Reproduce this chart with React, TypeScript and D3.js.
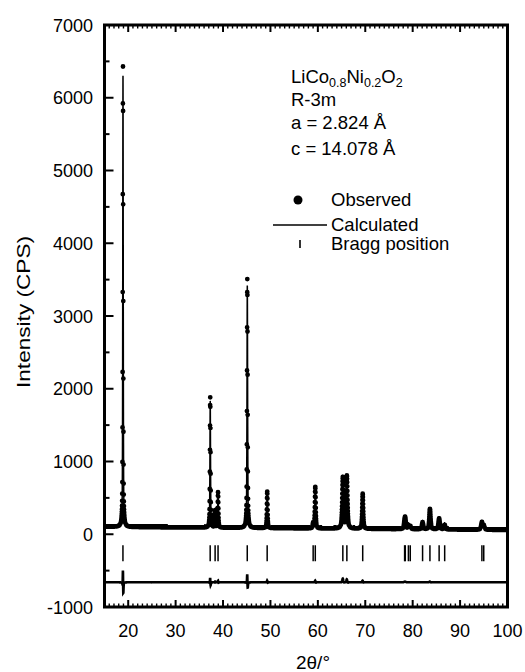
import React from 'react';
import * as d3 from 'd3';

// Peak list (2θ in degrees, net heights in CPS)
const calcPos = [18.9005, 37.301, 38.33, 38.951, 45.121, 49.321, 59.01, 59.461, 65.271, 66.121, 69.461, 78.30, 78.44, 79.10, 79.49, 82.09, 83.641, 85.58, 86.75, 94.60, 94.99];
const obsPos = [18.899, 37.299, 38.33, 38.949, 45.119, 49.319, 59.01, 59.459, 65.269, 66.119, 69.459, 78.30, 78.44, 79.10, 79.49, 82.09, 83.639, 85.58, 86.75, 94.60, 94.99];
const obsHeight = [6330, 1790, 235, 490, 3420, 500, 70, 570, 700, 720, 480, 85, 115, 50, 40, 95, 280, 150, 60, 100, 55];
const calcHeight = [6200, 1740, 225, 470, 3330, 480, 70, 550, 650, 680, 460, 80, 110, 50, 40, 95, 270, 150, 60, 100, 55];
const obsWidth = [0.12, 0.14, 0.15, 0.15, 0.15, 0.16, 0.2, 0.2, 0.3, 0.3, 0.24, 0.3, 0.3, 0.3, 0.3, 0.3, 0.3, 0.32, 0.32, 0.35, 0.35];
const calcWidth = [0.124, 0.145, 0.155, 0.155, 0.155, 0.165, 0.2, 0.205, 0.31, 0.31, 0.245, 0.3, 0.3, 0.3, 0.3, 0.3, 0.305, 0.32, 0.32, 0.35, 0.35];
const braggPos = [18.89, 37.29, 38.33, 38.95, 45.11, 49.31, 59.01, 59.46, 65.27, 66.12, 69.46, 78.30, 78.44, 79.10, 79.49, 82.09, 83.64, 85.58, 86.75, 94.60, 94.99];
const bgAngle = [15, 20, 30, 45, 60, 80, 100];
const bgLevel = [105, 100, 95, 88, 80, 70, 60];
const xTickLabels = [20, 30, 40, 50, 60, 70, 80, 90, 100];
const yTickLabels = [-1000, 0, 1000, 2000, 3000, 4000, 5000, 6000, 7000];
const diffOffset = -660;
const braggTop = -150;
const braggBottom = -370;

const FONT = '"Liberation Sans", Arial, Helvetica, sans-serif';

function pv(t: number, x0: number, h: number, w: number) {
  const d = (t - x0) / w;
  const L = 1 / (1 + 4 * d * d);
  const G = Math.exp(-4 * Math.LN2 * d * d);
  return h * (0.55 * L + 0.45 * G);
}

export default function App() {
  const x = d3.scaleLinear().domain([15, 100]).range([104.5, 507.5]);
  const y = d3.scaleLinear().domain([-1000, 7000]).range([607, 25]);
  const bg = d3.scaleLinear().domain(bgAngle).range(bgLevel);

  const profile = (t: number, P: number[], H: number[], W: number[]) => {
    let v = bg(t);
    for (let i = 0; i < P.length; i++) {
      if (Math.abs(t - P[i]) < 6) v += pv(t, P[i], H[i], W[i]);
    }
    return v;
  };

  const obsPts: [number, number][] = [];
  const diffPts: [number, number][] = [];
  for (let i = 0; i <= 4250; i++) {
    const t = 15 + i * 0.02;
    const o = profile(t, obsPos, obsHeight, obsWidth);
    const c = profile(t, calcPos, calcHeight, calcWidth);
    obsPts.push([t, o]);
    diffPts.push([t, o - c + diffOffset]);
  }
  const calcPts: [number, number][] = [];
  for (let i = 0; i <= 17000; i++) {
    const t = 15 + i * 0.005;
    calcPts.push([t, profile(t, calcPos, calcHeight, calcWidth)]);
  }

  const line = d3.line<[number, number]>().x(d => x(d[0])).y(d => y(d[1]));

  const r = 2.4;
  let dotPath = '';
  for (const [t, v] of obsPts) {
    const cx = x(t), cy = y(v);
    dotPath += `M${(cx - r).toFixed(2)},${cy.toFixed(2)}a${r},${r} 0 1,0 ${2 * r},0a${r},${r} 0 1,0 ${-2 * r},0`;
  }

  const x0 = x(15), x1 = x(100), yTop = y(7000), yBot = y(-1000);
  const xMinor = d3.range(15, 101, 1);
  const yMinor = d3.range(-1000, 7001, 500);

  return (
    <svg width={525} height={672} style={{ position: 'absolute', left: 0, top: 0, background: '#fff' }} fontFamily={FONT}>
      <defs>
        <clipPath id="plotClip">
          <rect x={x0} y={yTop} width={x1 - x0} height={yBot - yTop} />
        </clipPath>
      </defs>
      <rect x={0} y={0} width={525} height={672} fill="#fff" />
      <g clipPath="url(#plotClip)">
        <path d={dotPath} fill="#000" />
        <path d={line(calcPts) || ''} fill="none" stroke="#000" strokeWidth={1.5} />
        {braggPos.map((p, i) => (
          <line key={i} x1={x(p)} x2={x(p)} y1={y(braggTop)} y2={y(braggBottom)} stroke="#000" strokeWidth={1.5} />
        ))}
        <path d={line(diffPts) || ''} fill="none" stroke="#000" strokeWidth={2.6} />
      </g>

      <rect x={x0} y={yTop} width={x1 - x0} height={yBot - yTop} fill="none" stroke="#000" strokeWidth={3} />
      {xMinor.map(v => {
        const major = v % 10 === 0;
        const len = major ? 7 : 3.5;
        return (
          <g key={'xt' + v}>
            <line x1={x(v)} x2={x(v)} y1={yBot} y2={yBot - len} stroke="#000" strokeWidth={major ? 2 : 1.4} />
            <line x1={x(v)} x2={x(v)} y1={yTop} y2={yTop + len} stroke="#000" strokeWidth={major ? 2 : 1.4} />
          </g>
        );
      })}
      {yMinor.map(v => {
        const major = v % 1000 === 0;
        const len = major ? 9 : 5;
        return <line key={'yt' + v} x1={x0} x2={x0 + len} y1={y(v)} y2={y(v)} stroke="#000" strokeWidth={2} />;
      })}
      {xTickLabels.map(v => (
        <text key={'xl' + v} x={x(v)} y={637} textAnchor="middle" fontSize={18} fill="#000">{v}</text>
      ))}
      {yTickLabels.map(v => (
        <text key={'yl' + v} x={93} y={y(v) + 6.5} textAnchor="end" fontSize={18} fill="#000">{v}</text>
      ))}
      <text x={313} y={669} textAnchor="middle" fontSize={19} fill="#000">2θ/°</text>
      <text transform={`translate(30,312) rotate(-90)`} textAnchor="middle" fontSize={19} textLength={152} lengthAdjust="spacingAndGlyphs" fill="#000">Intensity (CPS)</text>

      <g fontSize={18.5} fill="#000">
        <text x={291} y={83}>
          LiCo<tspan fontSize={12.5} dy={4}>0.8</tspan><tspan dy={-4}>Ni</tspan><tspan fontSize={12.5} dy={4}>0.2</tspan><tspan dy={-4}>O</tspan><tspan fontSize={12.5} dy={4}>2</tspan>
        </text>
        <text x={291} y={106}>R-3m</text>
        <text x={291} y={129}>a = 2.824 Å</text>
        <text x={291} y={155}>c = 14.078 Å</text>
        <circle cx={298} cy={200} r={4.5} fill="#000" />
        <text x={331} y={206}>Observed</text>
        <line x1={273} x2={327} y1={225} y2={225} stroke="#000" strokeWidth={1.6} />
        <text x={331} y={231}>Calculated</text>
        <line x1={300} x2={300} y1={240} y2={248} stroke="#000" strokeWidth={1.6} />
        <text x={331} y={250}>Bragg position</text>
      </g>
    </svg>
  );
}
